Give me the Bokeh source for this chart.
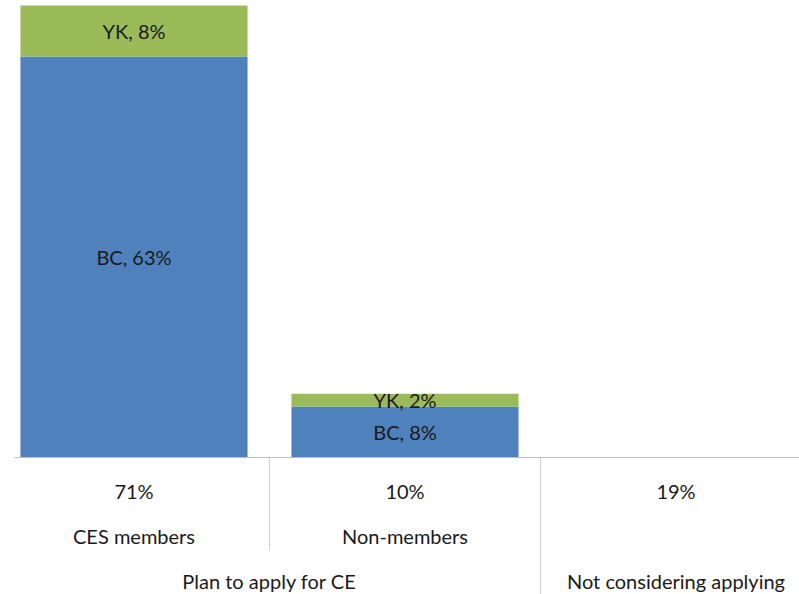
from bokeh.plotting import figure
from bokeh.models import Range1d, ColumnDataSource
from bokeh.core.properties import value
from bokeh.embed import file_html
from bokeh.resources import INLINE

categories = ["CES members", "Non-members", ""]
totals = ["71%", "10%", "19%"]
groups = ["Plan to apply for CE", "Not considering applying"]
group_spans = [(0, 1), (2, 2)]
bc = [63, 8, 0]
yk = [8, 2, 0]

FONT = value("Lato")
FS = "20px"
TXT = "#1a1a1a"

x = list(range(len(categories)))
px_per_cat = 271.0
px_per_pct = 6.366
x0 = -133.5 / px_per_cat
y_top = 457 / px_per_pct
y_bot = -(594 - 457) / px_per_pct

p = figure(width=799, height=594, output_backend="svg", toolbar_location=None,
           x_range=Range1d(x0, x0 + 799 / px_per_cat), y_range=Range1d(y_bot, y_top),
           min_border=0)
p.axis.visible = False
p.grid.visible = False
p.outline_line_color = None
p.background_fill_color = "white"

src = ColumnDataSource(dict(x=x, bc=bc, yk=yk,
                            yk_top=[b + k for b, k in zip(bc, yk)]))
p.vbar(x="x", bottom=0, top="bc", width=0.838, source=src,
       fill_color="#4F81BD", line_color=None)
p.vbar(x="x", bottom="bc", top="yk_top", width=0.838, source=src,
       fill_color="#9BBB59", line_color=None)

# segment labels
lx, ly, lt = [], [], []
for i in x:
    if bc[i] > 0:
        lx.append(i); ly.append(bc[i] / 2); lt.append(f"BC, {bc[i]}%")
    if yk[i] > 0:
        lx.append(i); ly.append(bc[i] + yk[i] / 2); lt.append(f"YK, {yk[i]}%")
p.text(x=lx, y=ly, text=lt, text_font=FONT, text_font_size=FS,
       text_color=TXT, text_align="center", text_baseline="middle")

# category axis line
p.segment(x0=[x0 + 14 / px_per_cat], x1=[x0 + 799 / px_per_cat], y0=[0], y1=[0],
          line_color="#BFBFBF", line_width=1)

# rows of axis labels
row1 = -33 / px_per_pct
row2 = -78 / px_per_pct
row3 = -123 / px_per_pct
p.text(x=x, y=[row1] * len(x), text=totals, text_font=FONT, text_font_size=FS,
       text_color=TXT, text_align="center", text_baseline="middle")
p.text(x=x, y=[row2] * len(x), text=categories, text_font=FONT, text_font_size=FS,
       text_color=TXT, text_align="center", text_baseline="middle")
gx = [(a + b) / 2 for a, b in group_spans]
p.text(x=gx, y=[row3] * len(gx), text=groups, text_font=FONT, text_font_size=FS,
       text_color=TXT, text_align="center", text_baseline="middle")

# separators: inner (within group) and group boundary
p.segment(x0=[0.5], x1=[0.5], y0=[0], y1=[-93 / px_per_pct],
          line_color="#D0D0D0", line_width=1)
p.segment(x0=[1.5], x1=[1.5], y0=[0], y1=[y_bot],
          line_color="#D0D0D0", line_width=1)

open("out.html", "w").write(file_html(p, INLINE))
